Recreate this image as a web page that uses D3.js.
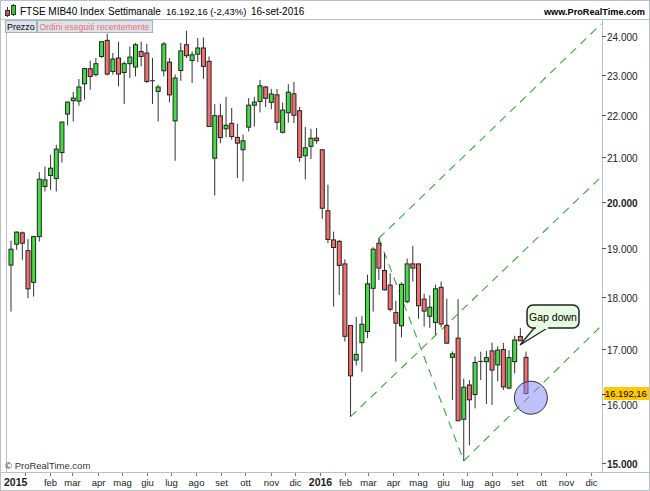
<!DOCTYPE html>
<html><head><meta charset="utf-8">
<script src="https://cdn.jsdelivr.net/npm/d3@7"></script>
<style>
html,body{margin:0;padding:0;background:#fff;}
svg{display:block;font-family:"Liberation Sans",Arial,sans-serif;}
</style></head><body>
<svg id="c" width="650" height="491"></svg>
<script>
// ---- data (weekly candles, FTSE MIB, from week of 15-dic-2014 to 12-set-2016) ----
const openV  = [18650,19085,19325,18950,18300,19245,20335,20585,20515,21110,22025,22350,22340,22770,23150,23000,23465,23885,23080,23425,23055,23280,23195,23595,23555,22845,22580,23100,23320,21860,23105,23770,23360,23525,23685,23340,20980,21980,21670,21800,21465,21175,21710,22240,22330,22690,22310,22495,21585,22055,22520,22105,21035,21255,21450,21175,19800,19175,19145,18675,17450,16800,17125,17335,18180,19105,18540,18245,17700,17445,17915,18675,18675,17965,17630,17510,18200,17450,16850,17210,15740,16345,16175,16775,16770,16970,16710,16995,16290,16770,17240,16850];
const highV  = [19160,19355,19355,19190,19260,20660,20790,21060,21290,21840,22330,22565,22890,23175,23360,23425,23850,24060,23555,23845,23335,23725,23815,23855,23795,23425,22745,23840,23425,23000,23815,24140,23595,23945,23960,23465,22265,22275,22445,22170,21790,21530,22415,22445,22870,22720,22640,22640,22300,22760,22815,22195,21715,21670,21685,21180,20375,19350,19175,18770,17455,17615,17630,18455,19020,19210,18895,18485,17930,18300,18785,19050,18680,18070,18040,18250,18315,17970,16960,17965,16460,16435,16865,16955,16970,17125,17055,17120,16980,17255,17400,16955];
const lowV   = [17720,18965,18760,17985,18015,19140,20225,20260,20225,20880,21750,21845,22225,22375,22620,22955,23425,22980,23000,22705,22270,22915,22955,23210,22790,22270,21845,22955,22315,20920,22845,23425,22790,23320,22895,21720,20135,21330,21465,21410,20525,20450,21605,21725,22065,22195,22140,21640,21560,21815,21805,20895,20495,20960,21315,19625,19105,17820,18050,17145,15785,16700,16585,17210,17720,18350,18135,17725,16770,17225,17885,18315,17580,17430,17405,17275,17415,17100,16080,15710,15035,15295,15930,16435,16005,15990,16410,16255,16270,16555,17155,16180];
const closeV = [18980,19340,19105,18170,19245,20500,20485,20750,21190,21830,22315,22415,22690,23155,22955,23280,23850,23015,23400,23015,23280,23450,23770,23465,22830,22845,22690,23790,22495,22915,23610,23485,23510,23685,23210,21725,21985,21460,21755,21485,21330,21385,22240,22315,22720,22410,22515,21825,22120,22560,21995,21000,21220,21445,21390,19855,19185,19015,18645,17245,16510,16905,17475,18270,18980,18590,18150,17765,17495,18260,18675,18590,17835,17730,17805,18170,17480,17115,16915,15715,16305,16080,16755,16775,16845,16615,16985,16310,16845,17175,17160,16192.16];
const priceTicks = [15000,16000,17000,18000,19000,20000,21000,22000,23000,24000];
const monthNames = ["gen","feb","mar","apr","mag","giu","lug","ago","set","ott","nov","dic"];
// trend lines (week index, price) pairs
const trendLines = [
  [[65,19210],[104.4,24320]],
  [[60,15785],[104.4,20553]],
  [[80,15035],[104.4,17443]],
  [[65,19210],[80,15035]]
];
const lastPrice = 16192.16;
const headerTexts = ["FTSE MIB40 Index","Settimanale","16.192,16 (-2,43%)","16-set-2016"];

const start = new Date(2014,11,15), end = new Date(2016,8,12);
const weeks = d3.timeMonday.range(start, d3.timeDay.offset(end,1));
const data = weeks.map((d,i)=>({d, o:openV[i], h:highV[i], l:lowV[i], c:closeV[i]}));

const svg = d3.select("#c");
const W=650,H=491;
const plotL=6, plotR=602, plotT=20, plotB=472;

const x = d3.scaleTime().domain([start,end]).range([11,526]);
const y = d3.scaleLog().domain([15000,24000]).range([463,36]);
const idxToDate = i => d3.timeDay.offset(start, i*7);

const loc = d3.formatLocale({decimal:",",thousands:".",grouping:[3],currency:["€",""]});
const fmt0 = loc.format(",.0f"), fmt2 = loc.format(",.2f");

svg.append("rect").attr("width",W).attr("height",H).attr("fill","#fff");
// header
svg.append("rect").attr("x",0.5).attr("y",0.5).attr("width",W-1).attr("height",19).attr("fill","#fff").attr("stroke","#b8c0c8");
svg.append("line").attr("x1",7.5).attr("x2",7.5).attr("y1",7).attr("y2",17).attr("stroke","#333");
svg.append("rect").attr("x",5.5).attr("y",10.5).attr("width",4).attr("height",5).attr("fill","#e05050").attr("stroke","#333");
svg.append("line").attr("x1",13.5).attr("x2",13.5).attr("y1",4).attr("y2",16).attr("stroke","#333");
svg.append("rect").attr("x",11.5).attr("y",5.5).attr("width",4).attr("height",9).attr("fill","#33cc33").attr("stroke","#333");
const hx = [20,108,166,251], hs = [10,10,9.4,10];
const ht = svg.append("g").attr("fill","#000");
headerTexts.forEach((t,i)=>{
  ht.append("text").attr("x",hx[i]).attr("y",14.5).attr("font-size",hs[i]).text(t);
});
ht.append("text").attr("x",645).attr("y",14.5).attr("text-anchor","end").attr("font-size",9.2).attr("font-weight","bold").text("www.ProRealTime.com");

// plot frame
svg.append("line").attr("x1",plotL+0.5).attr("x2",plotL+0.5).attr("y1",plotT).attr("y2",plotB).attr("stroke","#b8c0c8");
svg.append("line").attr("x1",plotR+0.5).attr("x2",plotR+0.5).attr("y1",plotT).attr("y2",plotB).attr("stroke","#b8c0c8");
svg.append("line").attr("x1",0).attr("x2",W).attr("y1",plotB+0.5).attr("y2",plotB+0.5).attr("stroke","#b8c0c8");
svg.append("rect").attr("x",0.5).attr("y",0.5).attr("width",W-1).attr("height",H-1).attr("fill","none").attr("stroke","#b8c0c8");

// tabs
svg.append("rect").attr("x",5.5).attr("y",20.5).attr("width",31).attr("height",12).attr("fill","#dde3ea").attr("stroke","#a8b0b8");
svg.append("text").attr("x",7).attr("y",30).attr("font-size",8.9).attr("fill","#000").text("Prezzo");
svg.append("rect").attr("x",37.5).attr("y",20.5).attr("width",115).attr("height",12).attr("fill","#dde3ea").attr("stroke","#a8b0b8");
svg.append("text").attr("x",39.5).attr("y",30).attr("font-size",8.6).attr("fill","#f07070").text("Ordini eseguiti recentemente");

svg.append("clipPath").attr("id","pc").append("rect").attr("x",plotL+1).attr("y",plotT+1).attr("width",plotR-plotL-1).attr("height",plotB-plotT-1);
const pg = svg.append("g").attr("clip-path","url(#pc)");

// trend lines
pg.selectAll("line.tl").data(trendLines).join("line")
  .attr("x1",d=>x(idxToDate(d[0][0]))).attr("y1",d=>y(d[0][1]))
  .attr("x2",d=>x(idxToDate(d[1][0]))).attr("y2",d=>y(d[1][1]))
  .attr("stroke","#3aa83a").attr("stroke-width",1.1).attr("stroke-dasharray","8,6");

// candles
const cg = pg.append("g");
cg.selectAll("line.w").data(data).join("line")
  .attr("x1",d=>x(d.d)).attr("x2",d=>x(d.d)).attr("y1",d=>y(d.h)).attr("y2",d=>y(d.l))
  .attr("stroke","#333").attr("stroke-width",1);
cg.selectAll("rect.b").data(data).join("rect")
  .attr("x",d=>x(d.d)-2).attr("width",4)
  .attr("y",d=>y(Math.max(d.o,d.c))).attr("height",d=>Math.max(0.01,Math.abs(y(d.o)-y(d.c))))
  .attr("fill",d=>d.c>d.o?"#44dd44":(d.c<d.o?"#f07070":"#000"))
  .attr("stroke","#222").attr("stroke-width",1);

// circle annotation
pg.append("circle").attr("cx",x(idxToDate(91.9))).attr("cy",y(16118)).attr("r",16.5)
  .attr("fill","rgba(140,140,250,0.55)").attr("stroke","#333").attr("stroke-width",1);

// callout
const cx0=527, cy0=305, cw=52, ch=23;
const co = svg.append("g");
co.append("path").attr("d",`M${cx0+8},${cy0+ch-1} L${520},${345} L${cx0+22},${cy0+ch-1}`)
  .attr("fill","#e6fbe0").attr("stroke","#222").attr("stroke-width",1.3);
co.append("rect").attr("x",cx0).attr("y",cy0).attr("width",cw).attr("height",ch).attr("rx",6)
  .attr("fill","#e6fbe0").attr("stroke","#222").attr("stroke-width",1.5);
co.append("rect").attr("x",cx0+9).attr("y",cy0+ch-3).attr("width",12).attr("height",4).attr("fill","#e6fbe0");
co.append("text").attr("x",cx0+cw/2).attr("y",cy0+16).attr("text-anchor","middle").attr("font-size",10.5).text("Gap down");

// y axis
const ya = svg.append("g");
priceTicks.forEach(v=>{
  const yy = Math.round(y(v))+0.5;
  ya.append("line").attr("x1",plotR).attr("x2",plotR+4).attr("y1",yy).attr("y2",yy).attr("stroke","#555");
  ya.append("text").attr("x",607).attr("y",yy+4).attr("font-size",10)
    .attr("font-weight",v%5000===0?"bold":"normal").attr("fill","#222").text(fmt0(v));
});
const ly = y(lastPrice);
ya.append("rect").attr("x",604).attr("y",ly-6.5).attr("width",45).attr("height",13).attr("fill","#ffc800");
ya.append("line").attr("x1",plotR).attr("x2",plotR+4).attr("y1",Math.round(ly)+0.5).attr("y2",Math.round(ly)+0.5).attr("stroke","#333");
ya.append("text").attr("x",605).attr("y",ly+3.5).attr("font-size",9.4).attr("fill","#000").text(fmt2(lastPrice));

// x axis
const months = d3.timeMonth.range(new Date(2015,0,1), new Date(2017,0,1));
const xa = svg.append("g");
months.forEach(m=>{
  const xx = Math.round(x(m))+0.5;
  if (xx<plotL || xx>plotR) return;
  xa.append("line").attr("x1",xx).attr("x2",xx).attr("y1",plotB+1).attr("y2",plotB+4).attr("stroke","#777");
  const isY = m.getMonth()===0;
  const edge = xx < 40;
  xa.append("text").attr("x",edge?4:xx).attr("y",486).attr("text-anchor",edge?"start":"middle")
    .attr("font-size",isY?10.5:9.5).attr("font-weight",isY?"bold":"normal").attr("fill","#222")
    .text(isY?m.getFullYear():monthNames[m.getMonth()]);
});
svg.append("text").attr("x",5).attr("y",469).attr("font-size",9.5).attr("fill","#333").text("© ProRealTime.com");
</script></body></html>
